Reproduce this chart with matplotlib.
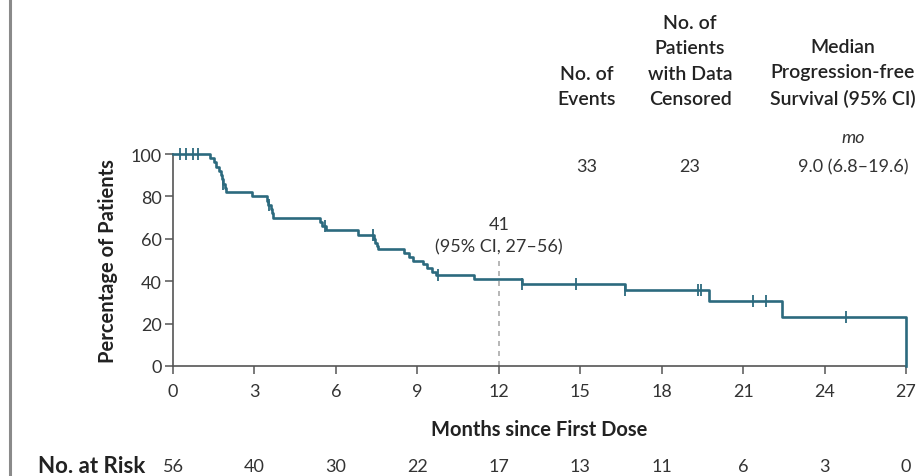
import numpy as np
import matplotlib
matplotlib.use("Agg")
from matplotlib import pyplot as plt

plt.rcParams['font.family'] = ['Lato', 'DejaVu Sans']

# step points of the curve (months, % without progression)
step_times = [0, 1.35, 1.5, 1.6, 1.7, 1.75, 1.8, 1.85, 1.9, 1.95, 2.9,
              3.45, 3.5, 3.6, 3.65, 3.7, 5.4, 5.5, 5.65, 6.8,
              7.4, 7.45, 7.5, 7.55, 8.5, 8.7, 8.85, 9.2, 9.35, 9.55, 9.7,
              11.1, 12.85, 16.65, 19.75, 22.45, 27.0]
step_surv = [100, 98, 96, 94, 92, 90, 88, 86, 84, 82, 80,
             78, 76, 74, 72, 70, 68, 66, 64, 62,
             60, 58, 56.5, 55, 53.3, 51.5, 49.7, 47.9, 46.1, 44.3, 43,
             41, 38.7, 36, 30.7, 23, 0]
censor_times = [0.26, 0.48, 0.74, 0.92, 1.85, 3.55, 5.6, 7.37, 9.75,
                12.85, 14.85, 16.65, 19.35, 19.45, 21.36, 21.84, 24.8]

xticks = [0, 3, 6, 9, 12, 15, 18, 21, 24, 27]
at_risk = [56, 40, 30, 22, 17, 13, 11, 6, 3, 0]

col_headers = ["No. of\nEvents", "No. of\nPatients\nwith Data\nCensored",
               "Median\nProgression-free\nSurvival (95% CI)"]
col_values = ["33", "23", "9.0 (6.8\u201319.6)"]

landmark_month = 12
landmark_text = ["41", "(95% CI, 27\u201356)"]

line_col = '#2c6a7e'
axis_col = '#555555'
text_col = '#333333'
head_col = '#222222'

fig = plt.figure(figsize=(9.22, 4.77), dpi=100)
ax = fig.add_axes([173/922, 110/477, 733/922, 212/477])

ax.step(step_times, step_surv, where='post', color=line_col, lw=1.9,
        clip_on=False, zorder=3)
t = np.array(step_times)
s = np.array(step_surv)
idx = np.searchsorted(t, censor_times, side='right') - 1
ax.plot(censor_times, s[idx], ls='none', marker='|', ms=8, mew=1.3,
        color=line_col, clip_on=False, zorder=4)

# dashed landmark line at 12 months
ax.plot([landmark_month, landmark_month], [0, 50], ls=(0, (3, 3)),
        color='#aaaaaa', lw=1.2, zorder=2)
ax.text(landmark_month, 56.5, landmark_text[1], ha='center', va='center',
        fontsize=13, color=text_col)
ax.text(landmark_month, 67, landmark_text[0], ha='center', va='center',
        fontsize=13, color=text_col)

ax.set_xlim(0, 27)
ax.set_ylim(0, 100)
ax.set_xticks(xticks)
ax.set_yticks([0, 20, 40, 60, 80, 100])
for side in ['top', 'right']:
    ax.spines[side].set_visible(False)
for side in ['left', 'bottom']:
    ax.spines[side].set_color(axis_col)
    ax.spines[side].set_linewidth(1.2)
ax.tick_params(colors=axis_col, labelcolor=text_col, labelsize=13,
               length=6, width=1.1, direction='out')
ax.tick_params(axis='x', pad=6)
ax.tick_params(axis='y', pad=2)
ax.set_xlabel('Months since First Dose', fontsize=14.5, fontweight='bold',
              color=head_col, labelpad=15)
ax.set_ylabel('Percentage of Patients', fontsize=14.5, fontweight='bold',
              color=head_col, labelpad=9)

# header table
col_x = [587, 690, 843]
for x, h in zip(col_x, col_headers):
    fig.text(x/922, 1 - 108/477, h, ha='center', va='bottom', fontsize=14,
             fontweight='semibold', color=head_col, linespacing=1.6)
fig.text(col_x[0]/922, 1 - 167/477, col_values[0], ha='center', va='center',
         fontsize=13, color=text_col)
fig.text(col_x[1]/922, 1 - 167/477, col_values[1], ha='center', va='center',
         fontsize=13, color=text_col)
fig.text(853/922, 1 - 167/477, col_values[2], ha='center', va='center',
         fontsize=13, color=text_col)
fig.text(853/922, 1 - 138/477, 'mo', ha='center', va='center', fontsize=13,
         style='italic', color=text_col)

# number at risk row
fig.text(38/922, 1 - 467/477, 'No. at Risk', ha='left', va='center',
         fontsize=16, fontweight='bold', color=head_col)
for m, n in zip(xticks, at_risk):
    xd = ax.transData.transform((m, 0))[0]
    fig.text(xd/922, 1 - 467/477, str(n), ha='center', va='center',
             fontsize=13, color=text_col)

# gray border line on the left
fig.add_artist(plt.Line2D([10/922, 10/922], [0, 1], color='#8a8a8a', lw=2.2))

fig.savefig('out.png', dpi=100)
